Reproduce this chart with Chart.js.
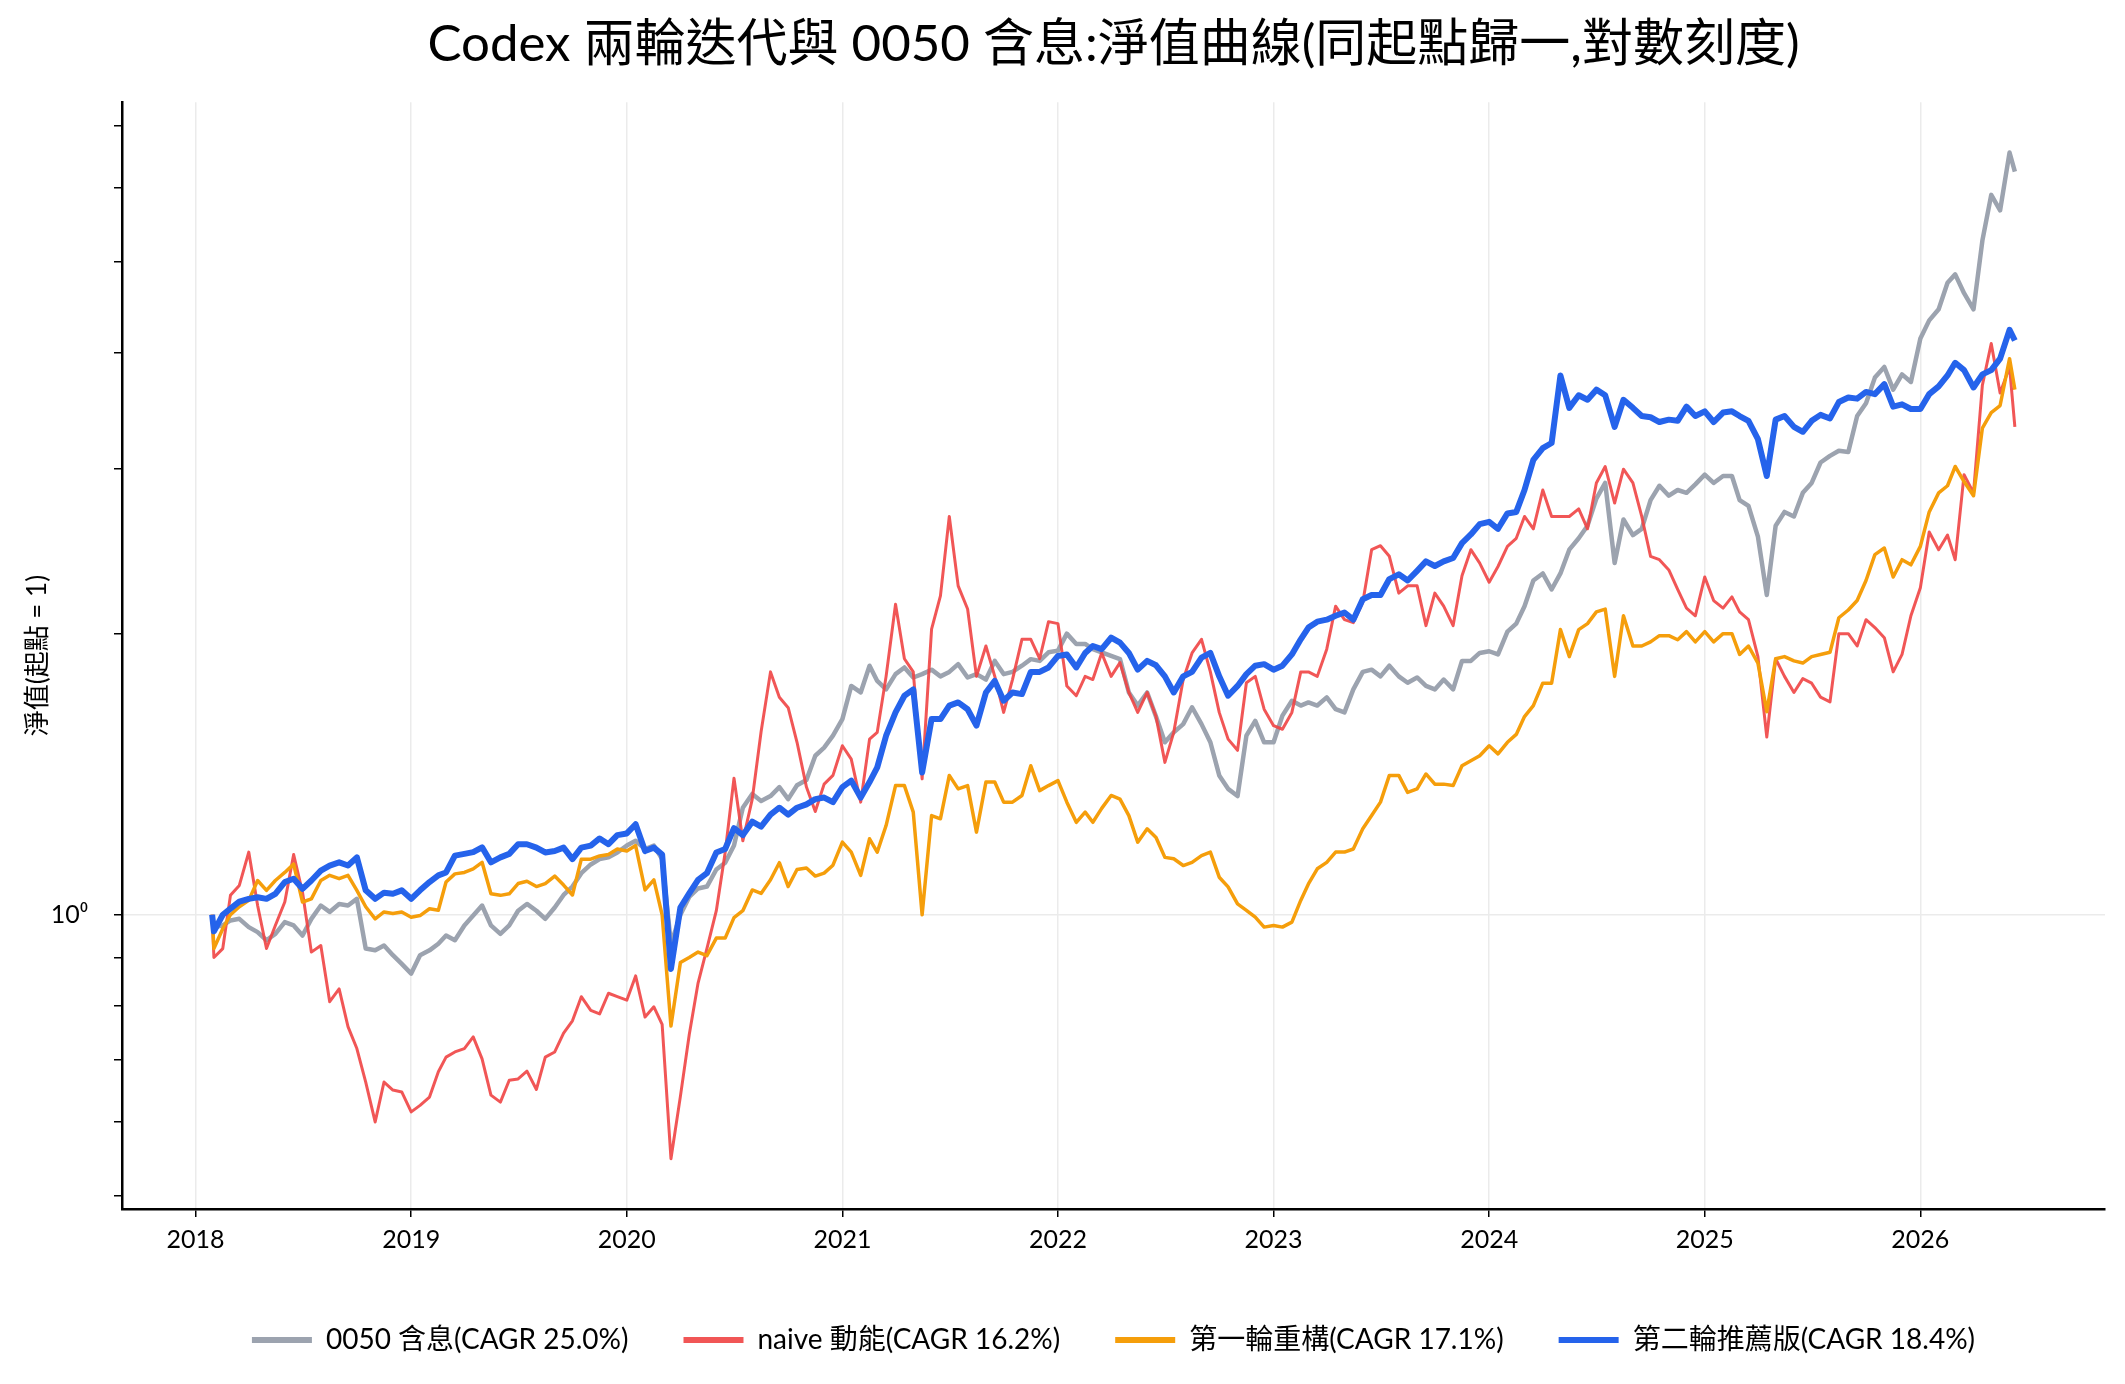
<!DOCTYPE html>
<html>
<head>
<meta charset="utf-8">
<script src="https://cdn.jsdelivr.net/npm/chart.js@4.4.1/dist/chart.umd.min.js"></script>
<style>
  html, body { margin: 0; padding: 0; background: #fff; }
  #wrap { width: 2125px; height: 1384px; }
</style>
</head>
<body>
<div id="wrap"><canvas id="nav-chart"></canvas></div>
<script>
// semi-monthly samples
const dates = [
  '2018-01-29','2018-02-01','2018-02-16','2018-03-01','2018-03-16','2018-04-01','2018-04-16','2018-05-01','2018-05-16','2018-06-01','2018-06-16','2018-07-01','2018-07-16','2018-08-01','2018-08-16','2018-09-01','2018-09-16','2018-10-01','2018-10-16','2018-11-01','2018-11-16','2018-12-01','2018-12-16',
  '2019-01-01','2019-01-16','2019-02-01','2019-02-16','2019-03-01','2019-03-16','2019-04-01','2019-04-16','2019-05-01','2019-05-16','2019-06-01','2019-06-16','2019-07-01','2019-07-16','2019-08-01','2019-08-16','2019-09-01','2019-09-16','2019-10-01','2019-10-16','2019-11-01','2019-11-16','2019-12-01','2019-12-16',
  '2020-01-01','2020-01-16','2020-02-01','2020-02-16','2020-03-01','2020-03-16','2020-04-01','2020-04-16','2020-05-01','2020-05-16','2020-06-01','2020-06-16','2020-07-01','2020-07-16','2020-08-01','2020-08-16','2020-09-01','2020-09-16','2020-10-01','2020-10-16','2020-11-01','2020-11-16','2020-12-01','2020-12-16',
  '2021-01-01','2021-01-16','2021-02-01','2021-02-16','2021-03-01','2021-03-16','2021-04-01','2021-04-16','2021-05-01','2021-05-16','2021-06-01','2021-06-16','2021-07-01','2021-07-16','2021-08-01','2021-08-16','2021-09-01','2021-09-16','2021-10-01','2021-10-16','2021-11-01','2021-11-16','2021-12-01','2021-12-16',
  '2022-01-01','2022-01-16','2022-02-01','2022-02-16','2022-03-01','2022-03-16','2022-04-01','2022-04-16','2022-05-01','2022-05-16','2022-06-01','2022-06-16','2022-07-01','2022-07-16','2022-08-01','2022-08-16','2022-09-01','2022-09-16','2022-10-01','2022-10-16','2022-11-01','2022-11-16','2022-12-01','2022-12-16',
  '2023-01-01','2023-01-16','2023-02-01','2023-02-16','2023-03-01','2023-03-16','2023-04-01','2023-04-16','2023-05-01','2023-05-16','2023-06-01','2023-06-16','2023-07-01','2023-07-16','2023-08-01','2023-08-16','2023-09-01','2023-09-16','2023-10-01','2023-10-16','2023-11-01','2023-11-16','2023-12-01','2023-12-16',
  '2024-01-01','2024-01-16','2024-02-01','2024-02-16','2024-03-01','2024-03-16','2024-04-01','2024-04-16','2024-05-01','2024-05-16','2024-06-01','2024-06-16','2024-07-01','2024-07-16','2024-08-01','2024-08-16','2024-09-01','2024-09-16','2024-10-01','2024-10-16','2024-11-01','2024-11-16','2024-12-01','2024-12-16',
  '2025-01-01','2025-01-16','2025-02-01','2025-02-16','2025-03-01','2025-03-16','2025-04-01','2025-04-16','2025-05-01','2025-05-16','2025-06-01','2025-06-16','2025-07-01','2025-07-16','2025-08-01','2025-08-16','2025-09-01','2025-09-16','2025-10-01','2025-10-16','2025-11-01','2025-11-16','2025-12-01','2025-12-16',
  '2026-01-01','2026-01-16','2026-02-01','2026-02-16','2026-03-01','2026-03-16','2026-04-01','2026-04-16','2026-05-01','2026-05-16','2026-06-01','2026-06-10'
];

const nav0050 = [
  1.0, 0.97, 0.974, 0.986, 0.99, 0.97, 0.958, 0.939, 0.954, 0.982, 0.974, 0.95, 0.99, 1.023, 1.007, 1.027, 1.023, 1.04, 0.92, 0.916, 0.927, 0.905, 0.886,
  0.865, 0.905, 0.916, 0.931, 0.95, 0.939, 0.974, 0.998, 1.023, 0.974, 0.954, 0.974, 1.01, 1.027, 1.01, 0.99, 1.018, 1.05, 1.072, 1.108, 1.132, 1.147, 1.152, 1.166,
  1.186, 1.2, 1.176, 1.186, 1.147, 0.93, 1.0, 1.045, 1.067, 1.072, 1.118, 1.137, 1.186, 1.302, 1.347, 1.324, 1.34, 1.37, 1.33, 1.376, 1.394, 1.48, 1.51, 1.555,
  1.62, 1.758, 1.73, 1.848, 1.78, 1.743, 1.81, 1.84, 1.795, 1.81, 1.83, 1.8, 1.82, 1.855, 1.795, 1.81, 1.786, 1.87, 1.81, 1.82, 1.848, 1.878, 1.87, 1.91,
  1.918, 2.0, 1.95, 1.95, 1.925, 1.91, 1.893, 1.878, 1.73, 1.675, 1.73, 1.63, 1.53, 1.568, 1.6, 1.668, 1.6, 1.53, 1.41, 1.364, 1.34, 1.555, 1.613, 1.53,
  1.53, 1.634, 1.695, 1.675, 1.688, 1.675, 1.709, 1.66, 1.647, 1.743, 1.82, 1.83, 1.8, 1.848, 1.8, 1.772, 1.795, 1.758, 1.743, 1.786, 1.743, 1.87, 1.87, 1.907,
  1.915, 1.9, 2.01, 2.05, 2.14, 2.28, 2.32, 2.23, 2.32, 2.46, 2.53, 2.61, 2.79, 2.9, 2.38, 2.65, 2.55, 2.59, 2.78, 2.88, 2.81, 2.85, 2.83, 2.89,
  2.96, 2.9, 2.95, 2.95, 2.78, 2.74, 2.54, 2.2, 2.61, 2.7, 2.67, 2.83, 2.9, 3.05, 3.1, 3.14, 3.13, 3.42, 3.53, 3.76, 3.86, 3.65, 3.79, 3.72,
  4.14, 4.33, 4.45, 4.75, 4.85, 4.63, 4.45, 5.27, 5.9, 5.68, 6.55, 6.25
];

const navNaive = [
  1.0, 0.9, 0.92, 1.049, 1.075, 1.167, 1.023, 0.92, 0.974, 1.032, 1.16, 1.057, 0.912, 0.927, 0.807, 0.833, 0.759, 0.719, 0.662, 0.6, 0.662, 0.649, 0.646,
  0.615, 0.625, 0.638, 0.679, 0.704, 0.713, 0.719, 0.74, 0.701, 0.641, 0.63, 0.665, 0.667, 0.68, 0.65, 0.704, 0.713, 0.747, 0.77, 0.817, 0.79, 0.783, 0.824, 0.817,
  0.81, 0.86, 0.777, 0.797, 0.763, 0.548, 0.639, 0.744, 0.845, 0.92, 1.01, 1.166, 1.40, 1.2, 1.33, 1.57, 1.82, 1.71, 1.666, 1.53, 1.37, 1.29, 1.38, 1.41,
  1.517, 1.468, 1.32, 1.542, 1.568, 1.8, 2.15, 1.88, 1.82, 1.398, 2.022, 2.195, 2.67, 2.25, 2.125, 1.8, 1.94, 1.8, 1.647, 1.786, 1.972, 1.972, 1.88, 2.06,
  2.05, 1.758, 1.716, 1.8, 1.786, 1.907, 1.8, 1.862, 1.73, 1.647, 1.73, 1.63, 1.456, 1.568, 1.786, 1.907, 1.972, 1.82, 1.647, 1.542, 1.5, 1.772, 1.8, 1.66,
  1.594, 1.58, 1.647, 1.82, 1.82, 1.8, 1.925, 2.14, 2.07, 2.055, 2.16, 2.46, 2.484, 2.42, 2.21, 2.25, 2.25, 2.04, 2.21, 2.14, 2.04, 2.307, 2.46, 2.38,
  2.27, 2.36, 2.48, 2.53, 2.67, 2.59, 2.85, 2.67, 2.67, 2.67, 2.72, 2.59, 2.9, 3.02, 2.76, 3.0, 2.9, 2.67, 2.42, 2.4, 2.34, 2.23, 2.13, 2.09,
  2.3, 2.17, 2.13, 2.19, 2.11, 2.07, 1.89, 1.55, 1.88, 1.8, 1.73, 1.79, 1.77, 1.71, 1.69, 2.0, 2.0, 1.94, 2.07, 2.03, 1.98, 1.82, 1.9, 2.09,
  2.24, 2.57, 2.46, 2.55, 2.4, 2.96, 2.83, 3.69, 4.09, 3.62, 3.86, 3.33
];

const navRound1 = [
  1.0, 0.92, 0.966, 1.0, 1.02, 1.036, 1.088, 1.062, 1.088, 1.11, 1.133, 1.032, 1.04, 1.088, 1.102, 1.093, 1.102, 1.062, 1.02, 0.99, 1.007, 1.003, 1.007,
  0.994, 0.998, 1.015, 1.011, 1.084, 1.106, 1.11, 1.12, 1.138, 1.053, 1.049, 1.053, 1.08, 1.086, 1.072, 1.08, 1.1, 1.076, 1.05, 1.147, 1.147, 1.156, 1.16, 1.176,
  1.17, 1.186, 1.063, 1.09, 1.0, 0.76, 0.889, 0.9, 0.912, 0.904, 0.944, 0.944, 0.993, 1.01, 1.063, 1.054, 1.09, 1.137, 1.072, 1.118, 1.122, 1.1, 1.108, 1.13,
  1.196, 1.167, 1.102, 1.206, 1.167, 1.246, 1.375, 1.375, 1.288, 1.0, 1.277, 1.267, 1.41, 1.364, 1.375, 1.226, 1.387, 1.387, 1.32, 1.32, 1.342, 1.444, 1.358, 1.375,
  1.392, 1.32, 1.256, 1.288, 1.256, 1.3, 1.342, 1.33, 1.277, 1.196, 1.236, 1.21, 1.152, 1.148, 1.129, 1.138, 1.157, 1.167, 1.097, 1.071, 1.027, 1.011, 0.994, 0.97,
  0.974, 0.97, 0.982, 1.036, 1.079, 1.12, 1.138, 1.167, 1.167, 1.176, 1.236, 1.277, 1.32, 1.41, 1.41, 1.352, 1.364, 1.415, 1.38, 1.38, 1.375, 1.444, 1.462, 1.48,
  1.517, 1.487, 1.53, 1.56, 1.63, 1.675, 1.77, 1.77, 2.02, 1.89, 2.02, 2.05, 2.11, 2.125, 1.8, 2.09, 1.94, 1.94, 1.96, 1.99, 1.99, 1.97, 2.01, 1.96,
  2.01, 1.96, 2.0, 2.0, 1.9, 1.94, 1.86, 1.65, 1.88, 1.89, 1.87, 1.86, 1.89, 1.9, 1.91, 2.08, 2.12, 2.17, 2.28, 2.43, 2.47, 2.3, 2.4, 2.37,
  2.48, 2.7, 2.83, 2.88, 3.02, 2.91, 2.81, 3.32, 3.45, 3.51, 3.94, 3.65
];

const navRound2 = [
  1.0, 0.96, 1.0, 1.015, 1.033, 1.04, 1.044, 1.04, 1.053, 1.084, 1.093, 1.066, 1.088, 1.115, 1.129, 1.138, 1.129, 1.152, 1.062, 1.04, 1.056, 1.053, 1.062,
  1.04, 1.062, 1.084, 1.102, 1.11, 1.157, 1.162, 1.167, 1.181, 1.138, 1.152, 1.162, 1.19, 1.19, 1.18, 1.166, 1.17, 1.18, 1.147, 1.18, 1.186, 1.207, 1.19, 1.217,
  1.222, 1.25, 1.17, 1.18, 1.16, 0.875, 1.018, 1.054, 1.09, 1.108, 1.166, 1.176, 1.238, 1.217, 1.258, 1.243, 1.28, 1.302, 1.28, 1.302, 1.313, 1.33, 1.335, 1.32,
  1.37, 1.392, 1.335, 1.387, 1.438, 1.555, 1.647, 1.716, 1.743, 1.42, 1.62, 1.62, 1.675, 1.688, 1.66, 1.594, 1.73, 1.78, 1.695, 1.73, 1.723, 1.82, 1.82, 1.84,
  1.893, 1.9, 1.84, 1.907, 1.94, 1.925, 1.98, 1.956, 1.907, 1.83, 1.87, 1.85, 1.8, 1.73, 1.8, 1.82, 1.885, 1.907, 1.8, 1.716, 1.758, 1.81, 1.848, 1.855,
  1.83, 1.848, 1.9, 1.972, 2.03, 2.06, 2.07, 2.09, 2.107, 2.07, 2.177, 2.2, 2.2, 2.288, 2.315, 2.28, 2.335, 2.39, 2.363, 2.39, 2.41, 2.5, 2.554, 2.62,
  2.635, 2.59, 2.69, 2.7, 2.85, 3.07, 3.16, 3.2, 3.78, 3.49, 3.6, 3.56, 3.65, 3.6, 3.33, 3.56, 3.49, 3.42, 3.41, 3.37, 3.39, 3.38, 3.5, 3.42,
  3.46, 3.37, 3.45, 3.46, 3.42, 3.38, 3.23, 2.95, 3.39, 3.42, 3.33, 3.29, 3.38, 3.43, 3.4, 3.54, 3.58, 3.57, 3.63, 3.61, 3.7, 3.5, 3.52, 3.48,
  3.48, 3.61, 3.68, 3.78, 3.9, 3.83, 3.67, 3.79, 3.83, 3.94, 4.23, 4.12
];

const seriesLabels = ['0050 含息(CAGR 25.0%)', 'naive 動能(CAGR 16.2%)', '第一輪重構(CAGR 17.1%)', '第二輪推薦版(CAGR 18.4%)'];
const yearTicks = [2018, 2019, 2020, 2021, 2022, 2023, 2024, 2025, 2026];
const logTicks = [0.5, 0.6, 0.7, 0.8, 0.9, 1, 2, 3, 4, 5, 6, 7];

const FONT = "Lato, 'Noto Sans CJK TC', sans-serif";

function toYear(s) {
    const [y, m, d] = s.split('-').map(Number);
    const t = Date.UTC(y, m - 1, d), a = Date.UTC(y, 0, 1), b = Date.UTC(y + 1, 0, 1);
    return y + (t - a) / (b - a);
}

const xs = dates.map(toYear);
function points(values) {
    return values.map((v, i) => ({x: xs[i], y: v}));
}

// matplotlib-like 5% margins (linear in x, log in y)
const xSpan = xs[xs.length - 1] - xs[0];
const xMin = xs[0] - 0.05 * xSpan;
const xMax = xs[xs.length - 1] + 0.05 * xSpan;
const allVals = nav0050.concat(navNaive, navRound1, navRound2);
const lo = Math.log10(Math.min(...allVals)), hi = Math.log10(Math.max(...allVals));
const yMin = Math.pow(10, lo - 0.05 * (hi - lo));
const yMax = Math.pow(10, hi + 0.05 * (hi - lo));

const colors = ['#9ca3af', 'rgba(239, 68, 68, 0.9)', '#f59e0b', '#2563eb'];
const widths = [4.5, 3, 3.5, 6];
const allSeries = [nav0050, navNaive, navRound1, navRound2];

const datasets = allSeries.map((vals, i) => ({
    label: seriesLabels[i],
    data: points(vals),
    borderColor: colors[i],
    backgroundColor: colors[i],
    borderWidth: widths[i],
    pointRadius: 0,
    tension: 0,
    borderJoinStyle: 'round',
    order: 4 - i,
}));

const ctx = document.getElementById('nav-chart').getContext('2d');
new Chart(ctx, {
    type: 'line',
    data: {datasets: datasets},
    options: {
        responsive: true,
        maintainAspectRatio: false,
        animation: false,
        layout: {padding: {left: 0, right: 20, top: 0, bottom: 20}},
        plugins: {
            title: {
                display: true,
                text: 'Codex 兩輪迭代與 0050 含息:淨值曲線(同起點歸一,對數刻度)',
                color: '#000',
                font: {family: FONT, size: 51, weight: 'normal'},
                padding: {top: 14, bottom: 27},
                fullSize: false,
            },
            legend: {
                position: 'bottom',
                fullSize: false,
                labels: {
                    color: '#000',
                    font: {family: FONT, size: 28},
                    boxWidth: 60,
                    boxHeight: 6,
                    padding: 55,
                    sort: (a, b) => a.datasetIndex - b.datasetIndex,
                    generateLabels: chart => Chart.defaults.plugins.legend.labels.generateLabels(chart)
                        .map(item => Object.assign(item, {lineWidth: 0})),
                },
            },
            tooltip: {enabled: false},
        },
        scales: {
            x: {
                type: 'linear',
                min: xMin,
                max: xMax,
                bounds: 'data',
                afterBuildTicks: scale => { scale.ticks = yearTicks.map(v => ({value: v})); },
                afterFit: scale => { scale.height = 62; },
                ticks: {
                    autoSkip: false,
                    maxRotation: 0,
                    padding: 8,
                    color: '#000',
                    font: {family: FONT, size: 25},
                    callback: v => String(v),
                },
                grid: {color: '#ebebeb', lineWidth: 1.5, tickColor: '#000', tickLength: 8, tickWidth: 1.5},
                border: {color: '#000', width: 2.5},
            },
            y: {
                type: 'logarithmic',
                min: yMin,
                max: yMax,
                bounds: 'data',
                afterBuildTicks: scale => { scale.ticks = logTicks.map(v => ({value: v})); },
                afterFit: scale => { scale.width = 122; },
                ticks: {
                    autoSkip: false,
                    padding: 26,
                    color: '#000',
                    font: {family: FONT, size: 25},
                    callback: v => (v === 1 ? '10⁰' : ''),
                },
                grid: {
                    color: c => (c.tick && c.tick.value === 1 ? '#ebebeb' : 'rgba(0,0,0,0)'),
                    lineWidth: 1.5,
                    tickColor: '#000',
                    tickLength: 8,
                    tickWidth: 1.5,
                },
                border: {color: '#000', width: 2.5},
                title: {
                    display: true,
                    text: '淨值(起點 = 1)',
                    color: '#000',
                    font: {family: FONT, size: 26},
                    padding: {top: 22, bottom: 0},
                },
            },
        },
    },
});
</script>
</body>
</html>
